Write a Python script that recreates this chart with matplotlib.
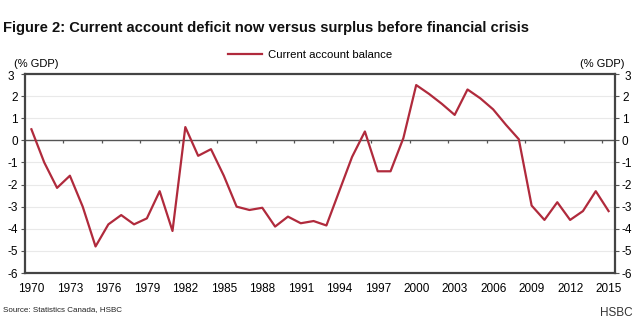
import numpy as np
import matplotlib
matplotlib.use('Agg')
import matplotlib.pyplot as plt

years = list(range(1970, 2016))
balance = [0.5, -1.0, -2.15, -1.6, -3.0, -4.8, -3.8, -3.38, -3.8, -3.53,
           -2.3, -4.1, 0.6, -0.7, -0.4, -1.6, -3.0, -3.15, -3.05, -3.9,
           -3.45, -3.75, -3.65, -3.85, -2.3, -0.75, 0.4, -1.4, -1.4, 0.1,
           2.5, 2.1, 1.65, 1.15, 2.3, 1.9, 1.4, 0.7, 0.05, -2.95,
           -3.6, -2.8, -3.6, -3.2, -2.3, -3.2]
year_ticks = list(range(1970, 2016, 3))
y_ticks = list(range(-6, 4))

plt.rcParams['font.family'] = ['Liberation Sans', 'DejaVu Sans']

fig = plt.figure(figsize=(6.4, 3.24), dpi=100)
ax = fig.add_axes([25/640, 1 - 273/324, 590/640, 199/324])

line_col = '#b02a3c'
ax.plot(years, balance, color=line_col, lw=1.6, label='Current account balance', zorder=3)

ax.set_xlim(1969.5, 2015.5)
ax.set_ylim(-6, 3)
for v in y_ticks:
    if v not in (-6, 0, 3):
        ax.axhline(v, color='#e9e9e9', lw=0.8, zorder=1)
ax.axhline(0, color='#555555', lw=1.0, zorder=2)
# little category marks hanging from the zero line
ax.vlines(np.arange(1972.5, 2015, 3), -0.12, 0, color='#555555', lw=0.9, zorder=2)

ax.set_xticks(year_ticks)
ax.set_xticklabels([str(y) for y in year_ticks], fontsize=8.5)
ax.tick_params(axis='x', length=0, pad=7)
ax.set_yticks(y_ticks)
ax.set_yticklabels([str(v) if v != 3 else '' for v in y_ticks], fontsize=8.5)
ax.tick_params(axis='y', which='both', left=True, right=True, labelleft=True,
               labelright=True, length=3, direction='out', color='#555555', pad=2)
for s in ax.spines.values():
    s.set_color('#444444')
    s.set_linewidth(1.6)

# the top labels sit a bit apart, next to the unit text
fig.text(8/640, 1 - 77/324, '3', fontsize=8.5, ha='left', va='center')
fig.text(14/640, 1 - 64/324, '(% GDP)', fontsize=8, ha='left', va='center')
fig.text(631/640, 1 - 77/324, '3', fontsize=8.5, ha='right', va='center')
fig.text(624/640, 1 - 64/324, '(% GDP)', fontsize=8, ha='right', va='center')

leg = fig.legend(loc='center', bbox_to_anchor=(310/640, 1 - 55/324), frameon=False,
                 fontsize=8.2, handlelength=3.0, handletextpad=0.5)

fig.text(3/640, 1 - 28/324,
         'Figure 2: Current account deficit now versus surplus before financial crisis',
         fontsize=10.6, fontweight='bold', ha='left', va='center', color='#111111')
fig.text(3/640, 1 - 310/324, 'Source: Statistics Canada, HSBC', fontsize=5.8,
         ha='left', va='center', color='#222222')
fig.text(633/640, 1 - 313/324, 'HSBC', fontsize=8.5, ha='right', va='center',
         color='#333333')

fig.savefig('out.png', dpi=100)
